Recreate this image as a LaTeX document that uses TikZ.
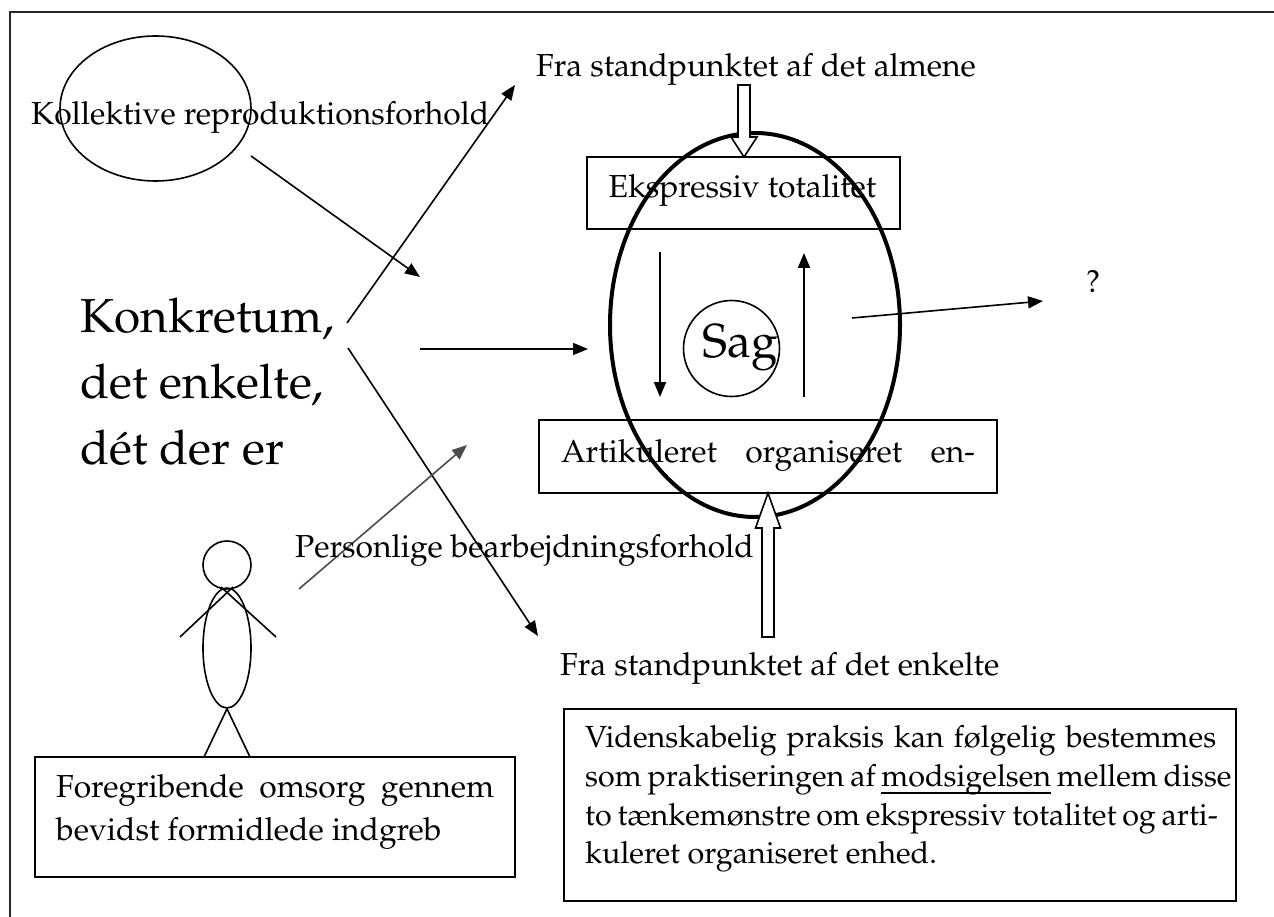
\documentclass[tikz,border=0pt]{standalone}
\usepackage[T1]{fontenc}
\usepackage{mathpazo}
\usetikzlibrary{shapes.geometric,arrows.meta}
\newcommand{\bodyf}{\fontsize{31.8pt}{38pt}\selectfont}
\newcommand{\boxf}{\fontsize{30.5pt}{38pt}\selectfont}
\newcommand{\bigf}{\fontsize{47.7pt}{56pt}\selectfont}
\newcommand{\myuline}[1]{\setbox0\hbox{#1}\rlap{\rule[-7.5pt]{\wd0}{1.6pt}}#1}
\begin{document}
\begin{tikzpicture}[x=1pt,y=-1pt,
  conn/.style={line width=1.6pt,-{Triangle[length=15pt,width=12pt]}},
  thin/.style={line width=1.6pt},
  boxnode/.style={draw,line width=1.8pt,inner sep=0pt},
  txt/.style={inner sep=0pt,anchor=base west},
  hollow/.style={draw,line width=1.6pt,fill=white,line join=miter}]
\useasboundingbox (0,0) rectangle (1274,917);
% frame (cropped on right and bottom)
\coordinate (fTL) at (10,12);
\coordinate (fTR) at (1274,12);
\coordinate (fBL) at (10,917);
\draw[line width=2.2pt,black!85] (fTR) -- (fTL) -- (fBL);

% Kollektive ellipse and text
\node[draw,ellipse,line width=1.6pt,minimum width=191pt,minimum height=145pt,inner sep=0pt] (ellK) at (155.5,108.5) {};
\node[txt] (kollT) at (31,125) {\bodyf Kollektive reproduktionsforhold};

% big central ellipse
\node[draw,ellipse,line width=4pt,minimum width=290pt,minimum height=384pt,inner sep=0pt] (bigE) at (755,325) {};

% Ekspressiv box
\node[boxnode,minimum width=313pt,minimum height=72pt] (ekspr) at (743.5,193) {};
\node[inner sep=0pt,anchor=base] (eksprT) at (742.5,198) {\bodyf Ekspressiv totalitet};

% Artikuleret box
\node[boxnode,minimum width=458pt,minimum height=73pt] (artik) at (768,456.5) {};
\node[inner sep=0pt,anchor=base] (artikT) at (768,462) {\bodyf\makebox[414pt][s]{Artikuleret organiseret en-}};

% Sag
\node[draw,circle,line width=1.6pt,minimum size=96pt,inner sep=0pt] (sag) at (731.5,348.5) {};
\node[txt] (sagT) at (702,357) {\bigf Sag};

% inner vertical arrows
\coordinate (dnS) at (660,252);
\coordinate (dnE) at (660,397);
\coordinate (upS) at (804,397);
\coordinate (upE) at (804,253);
\draw[conn] (dnS) -- (dnE);
\draw[conn] (upS) -- (upE);

% question arrow
\coordinate (qS) at (852,318);
\coordinate (qE) at (1043,301);
\draw[conn] (qS) -- (qE);
\node[txt] (qT) at (1086,293) {\bodyf ?};

% top text and hollow arrow
\node[txt] (fraA) at (536,77) {\bodyf Fra standpunktet af det almene};
\draw[hollow] (738,85) -- (750,85) -- (750,137) -- (757,137) -- (744,157) -- (731,137) -- (738,137) -- cycle;

% bottom hollow arrow
\draw[hollow] (762,637) -- (774,637) -- (774,528) -- (780.5,528) -- (768,493) -- (755.5,528) -- (762,528) -- cycle;
\node[txt] (fraE) at (560,675) {\bodyf Fra standpunktet af det enkelte};

% Konkretum text
\node[txt] (kon1) at (80,332) {\bigf Konkretum,};
\node[txt] (kon2) at (80,398) {\bigf det enkelte,};
\node[txt] (kon3) at (80,464) {\bigf d\'et der er};

% arrows around Konkretum
\coordinate (aS) at (251,156);
\coordinate (aE) at (420,277);
\draw[conn] (aS) -- (aE);
\coordinate (bS) at (347,323);
\coordinate (bE) at (515,85);
\draw[conn] (bS) -- (bE);
\coordinate (cS) at (420,349);
\coordinate (cE) at (588,349);
\draw[conn] (cS) -- (cE);
\coordinate (dS) at (348,348);
\coordinate (dE) at (538,636);
\draw[conn] (dS) -- (dE);
\coordinate (eS) at (299,589);
\coordinate (eE) at (467,445);
\draw[conn,black!70] (eS) -- (eE);

\node[txt] (pers) at (295,557) {\bodyf Personlige bearbejdningsforhold};

% stick figure
\node[draw,circle,line width=1.6pt,minimum size=48pt,inner sep=0pt] (head) at (227,565) {};
\node[draw,ellipse,line width=1.6pt,minimum width=48pt,minimum height=120pt,inner sep=0pt] (body) at (227,648) {};
\coordinate (armLs) at (233,587);
\coordinate (armLe) at (180,637);
\coordinate (armRs) at (221,587);
\coordinate (armRe) at (276,637);
\draw[thin] (armLs) -- (armLe);
\draw[thin] (armRs) -- (armRe);
\coordinate (legL) at (204,757);
\coordinate (legR) at (250,757);
\draw[thin] (body.south) -- (legL);
\draw[thin] (body.south) -- (legR);

% Foregribende box
\node[boxnode,minimum width=480pt,minimum height=120pt] (foreg) at (275,817) {};
\node[txt] (foreg1) at (56,797) {\bodyf\makebox[438pt][s]{Foregribende omsorg gennem}};
\node[txt] (foreg2) at (56,840) {\bodyf bevidst formidlede indgreb};

% right box
\node[boxnode,line width=2.4pt,minimum width=672pt,minimum height=192pt] (vid) at (900,805) {};
\node[txt] (vid1) at (585,747) {\boxf\makebox[631pt][s]{Videnskabelig praksis kan f\o lgelig bestemmes}};
\node[txt] (vid2) at (585,786) {\boxf\makebox[631pt][s]{som praktiseringen af \myuline{modsigelsen} mellem disse}};
\node[txt] (vid3) at (585,825) {\boxf\makebox[631pt][s]{to t\ae nkem\o nstre om ekspressiv totalitet og arti-}};
\node[txt] (vid4) at (585,863) {\boxf kuleret organiseret enhed.};
\end{tikzpicture}
\end{document}
